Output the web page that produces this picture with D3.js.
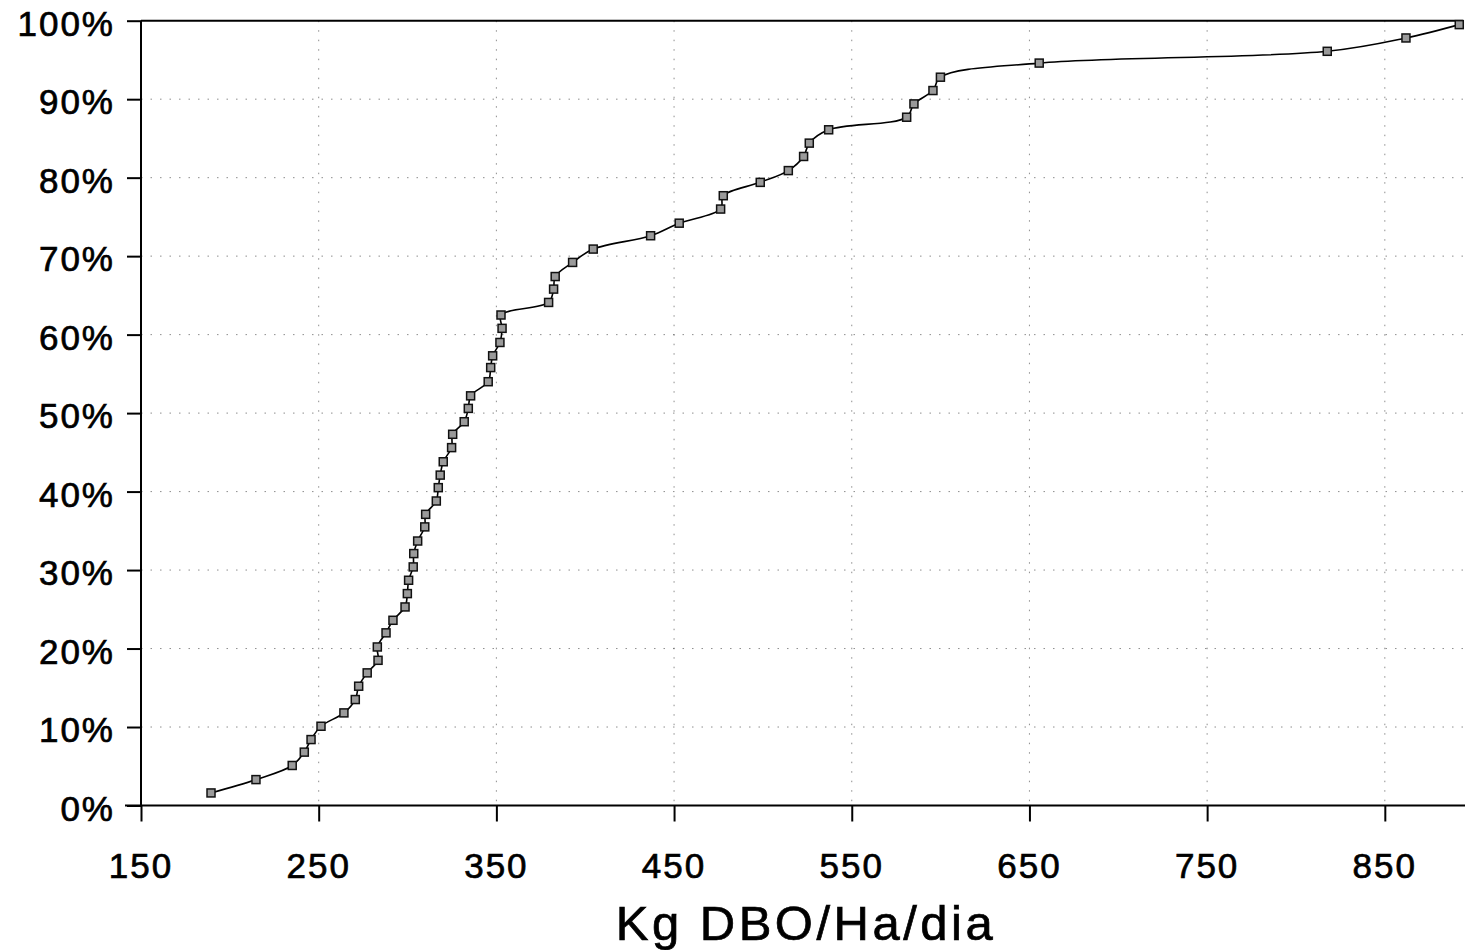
<!DOCTYPE html>
<html>
<head>
<meta charset="utf-8">
<script src="https://cdn.jsdelivr.net/npm/d3@7"></script>
<style>
  body { margin: 0; background: #fff; }
  svg { display: block; }
  .lbl { font-family: "Liberation Sans", Arial, sans-serif; fill: #000; stroke: #000; stroke-width: 0.7px; }
</style>
</head>
<body>
<div id="chart"></div>
<script>
// values (Kg DBO/Ha/dia vs cumulative %)
var kgDbo = [189.4, 214.7, 235.1, 241.9, 245.7, 251.3, 264.2, 270.6, 272.5, 277.3,
             283.4, 283.0, 287.9, 291.8, 298.6, 299.9, 300.6, 303.2, 303.5, 305.7,
             309.7, 310.2, 316.2, 317.3, 318.4, 320.1, 324.8, 325.4, 331.9, 334.2,
             335.5, 345.4, 346.8, 347.9, 352.0, 353.2, 352.6, 379.4, 382.2, 383.1,
             392.9, 404.5, 436.8, 452.9, 476.2, 477.7, 498.5, 514.3, 522.9, 526.1,
             537.0, 580.9, 585.0, 595.7, 599.9, 655.5, 817.6, 861.9, 891.9];
var pctAcum = [1.6, 3.3, 5.1, 6.8, 8.4, 10.1, 11.8, 13.5, 15.2, 16.9,
               18.5, 20.2, 22.0, 23.6, 25.3, 27.0, 28.7, 30.4, 32.1, 33.7,
               35.5, 37.1, 38.8, 40.5, 42.1, 43.8, 45.6, 47.3, 48.9, 50.6,
               52.2, 54.0, 55.8, 57.3, 59.0, 60.8, 62.5, 64.1, 65.8, 67.4,
               69.2, 70.9, 72.6, 74.2, 76.0, 77.7, 79.4, 80.9, 82.7, 84.4,
               86.1, 87.7, 89.4, 91.1, 92.8, 94.6, 96.1, 97.8, 99.5];
var xTicks = [150, 250, 350, 450, 550, 650, 750, 850];
var yTicks = [0, 10, 20, 30, 40, 50, 60, 70, 80, 90, 100];

var W = 1465, H = 950;
var svg = d3.select('#chart').append('svg')
    .attr('width', W)
    .attr('height', H);

var x = d3.scaleLinear().domain([150, 894]).range([141, 1463]);
var y = d3.scaleLinear().domain([0, 100]).range([805.5, 20.7]);

// dotted grid (sparse, like the scan)
svg.append('g').selectAll('line')
    .data(yTicks.slice(1, -1))
    .enter().append('line')
    .attr('x1', x(150)).attr('x2', 1463)
    .attr('y1', function(d){ return y(d); })
    .attr('y2', function(d){ return y(d); })
    .attr('stroke', '#444')
    .attr('stroke-width', 1)
    .attr('stroke-dasharray', '1.5,8')
    .attr('opacity', 0.6);

svg.append('g').selectAll('line')
    .data(xTicks.slice(1))
    .enter().append('line')
    .attr('x1', function(d){ return x(d); })
    .attr('x2', function(d){ return x(d); })
    .attr('y1', y(100)).attr('y2', y(0))
    .attr('stroke', '#444')
    .attr('stroke-width', 1)
    .attr('stroke-dasharray', '1.5,8')
    .attr('opacity', 0.6);

// top frame line at 100%
svg.append('line')
    .attr('x1', x(150)).attr('x2', 1463)
    .attr('y1', y(100)).attr('y2', y(100))
    .attr('stroke', '#000').attr('stroke-width', 2);

// axes
var xAxis = d3.axisBottom(x).tickValues(xTicks).tickSize(16).tickFormat('');
var yAxis = d3.axisLeft(y).tickValues(yTicks).tickSize(14).tickFormat('');

var gx = svg.append('g').attr('transform', 'translate(0,' + y(0) + ')').call(xAxis);
var gy = svg.append('g').attr('transform', 'translate(' + x(150) + ',0)').call(yAxis);
gx.select('.domain').remove();
gy.select('.domain').remove();
svg.selectAll('.tick line').attr('stroke', '#000').attr('stroke-width', 2);

svg.append('line')
    .attr('x1', 125).attr('x2', W)
    .attr('y1', y(0)).attr('y2', y(0))
    .attr('stroke', '#000').attr('stroke-width', 2);
svg.append('line')
    .attr('x1', x(150)).attr('x2', x(150))
    .attr('y1', y(100)).attr('y2', y(0))
    .attr('stroke', '#000').attr('stroke-width', 2);

// tick labels
svg.append('g').selectAll('text')
    .data(xTicks)
    .enter().append('text')
    .attr('class', 'lbl')
    .attr('x', function(d){ return x(d); })
    .attr('y', y(0) + 72)
    .attr('text-anchor', 'middle')
    .style('font-size', '35px')
    .style('letter-spacing', '2px')
    .text(function(d){ return d; });

svg.append('g').selectAll('text')
    .data(yTicks)
    .enter().append('text')
    .attr('class', 'lbl')
    .attr('x', 115)
    .attr('y', function(d){ return y(d) + 15; })
    .attr('text-anchor', 'end')
    .style('font-size', '35px')
    .style('letter-spacing', '2px')
    .text(function(d){ return d + '%'; });

svg.append('text')
    .attr('class', 'lbl')
    .attr('x', 806)
    .attr('y', 940)
    .attr('text-anchor', 'middle')
    .style('font-size', '49px')
    .style('letter-spacing', '3.5px')
    .text('Kg DBO/Ha/dia');

// curve + markers
var pts = kgDbo.map(function(v, i){ return [v, pctAcum[i]]; });

var line = d3.line()
    .x(function(d){ return x(d[0]); })
    .y(function(d){ return y(d[1]); })
    .curve(d3.curveCatmullRom.alpha(0.5));

svg.append('path')
    .datum(pts)
    .attr('d', line)
    .attr('fill', 'none')
    .attr('stroke', '#000')
    .attr('stroke-width', 1.6);

svg.append('g').selectAll('rect')
    .data(pts)
    .enter().append('rect')
    .attr('x', function(d){ return x(d[0]) - 4; })
    .attr('y', function(d){ return y(d[1]) - 4; })
    .attr('width', 8)
    .attr('height', 8)
    .attr('fill', '#9a9a9a')
    .attr('stroke', '#111')
    .attr('stroke-width', 1.5);
</script>
</body>
</html>
